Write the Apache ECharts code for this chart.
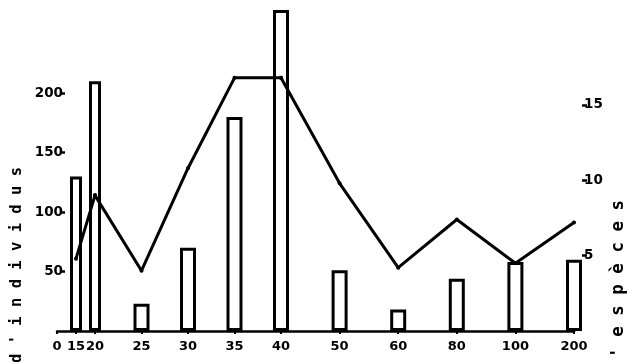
<!DOCTYPE html>
<html><head><meta charset="utf-8">
<script src="https://cdn.jsdelivr.net/npm/echarts@6/dist/echarts.min.js"></script>
<style>html,body{margin:0;padding:0;background:#fff}#c{width:628px;height:362px}</style>
</head><body><div id="c"></div>
<script>
// ---- data ----
const categories = ['0','15','20','25','30','35','40','50','60','80','100','200'];
const individus  = [null,130,210,23,70,180,270,51,18,44,58,60];
const especes    = [null,4.8,9.0,4.0,10.8,16.8,16.8,9.8,4.2,7.4,4.5,7.2];
const leftTicks  = [50,100,150,200];
const rightTicks = [5,10,15];
const leftTitle  = "d ' i n d i v i d u s";
const rightTitle = "d ' e s p è c e s";

// ---- layout: the hand-drawn x axis is uneven; draw it as three joined category segments ----
const segments = [[0,2],[2,6],[6,11]];      // category index ranges (shared ends)
const segPx = [[57,95],[95,281],[281,574]];  // pixel extent of each segment
const W = 628, TOP = 10, BOTTOM = 31;
const numFont = {color:'#000', fontFamily:'DejaVu Sans', fontWeight:'bold', fontSize:13};

const grid = [], xAxis = [], yAxis = [], series = [];
segments.forEach(([a,b], g) => {
  const n = b - a;
  grid.push({left:segPx[g][0], right:W-segPx[g][1], top:TOP, bottom:BOTTOM, containLabel:false});
  const keepBar = (i) => g === 0 || i > 0;
  const keepLbl = (i) => g === 0 ? i < n : (g === 2 ? i > 0 : true);
  xAxis.push({
    type:'category', gridIndex:g, data:categories.slice(a,b+1), boundaryGap:false,
    axisLine:{show:true, lineStyle:{color:'#000', width:2.5}},
    axisTick:{show:true, length:3, interval:(i)=>keepLbl(i), lineStyle:{color:'#000', width:2}},
    axisLabel:Object.assign({interval:(i)=>keepLbl(i), margin:9, hideOverlap:false}, numFont),
    splitLine:{show:false}
  });
  yAxis.push({
    type:'value', gridIndex:g, min:0, max:270, show:g===0, position:'left', offset:-8,
    axisLine:{show:false}, splitLine:{show:false},
    axisTick:{show:true, customValues:leftTicks, length:5, lineStyle:{color:'#000', width:2.5}},
    axisLabel:Object.assign({customValues:leftTicks, margin:2}, numFont, {fontSize:13.5})
  });
  yAxis.push({
    type:'value', gridIndex:g, min:0, max:21.3, show:g===2, position:'right', offset:8,
    axisLine:{show:false}, splitLine:{show:false},
    axisTick:{show:true, customValues:rightTicks, length:5, lineStyle:{color:'#000', width:2.5}},
    axisLabel:Object.assign({customValues:rightTicks, margin:2}, numFont, {fontSize:13.5})
  });
  series.push({
    type:'bar', xAxisIndex:g, yAxisIndex:2*g,
    data:individus.slice(a,b+1).map((v,i)=> keepBar(i) ? v : null),
    barWidth: g===0 ? 12 : 16,
    itemStyle:{color:'#fff', borderColor:'#000', borderWidth:3},
    z:2
  });
  series.push({
    type:'line', xAxisIndex:g, yAxisIndex:2*g+1,
    data:especes.slice(a,b+1),
    lineStyle:{color:'#000', width:3, cap:'round', join:'round'},
    symbol:'circle', symbolSize:4, itemStyle:{color:'#000'},
    z:3
  });
});

const chart = echarts.init(document.getElementById('c'), null, {renderer:'canvas'});
chart.setOption({
  animation:false,
  backgroundColor:'#fff',
  grid, xAxis, yAxis, series,
  graphic:[
    {type:'text', x:17, y:363, rotation:Math.PI/2,
     style:{text:leftTitle, fill:'#000', font:'bold 15.5px "DejaVu Sans Mono"', textAlign:'left', textVerticalAlign:'middle'}},
    {type:'text', x:618, y:379, rotation:Math.PI/2,
     style:{text:rightTitle, fill:'#000', font:'bold 17.5px "DejaVu Sans Mono"', textAlign:'left', textVerticalAlign:'middle'}}
  ]
});
</script></body></html>
